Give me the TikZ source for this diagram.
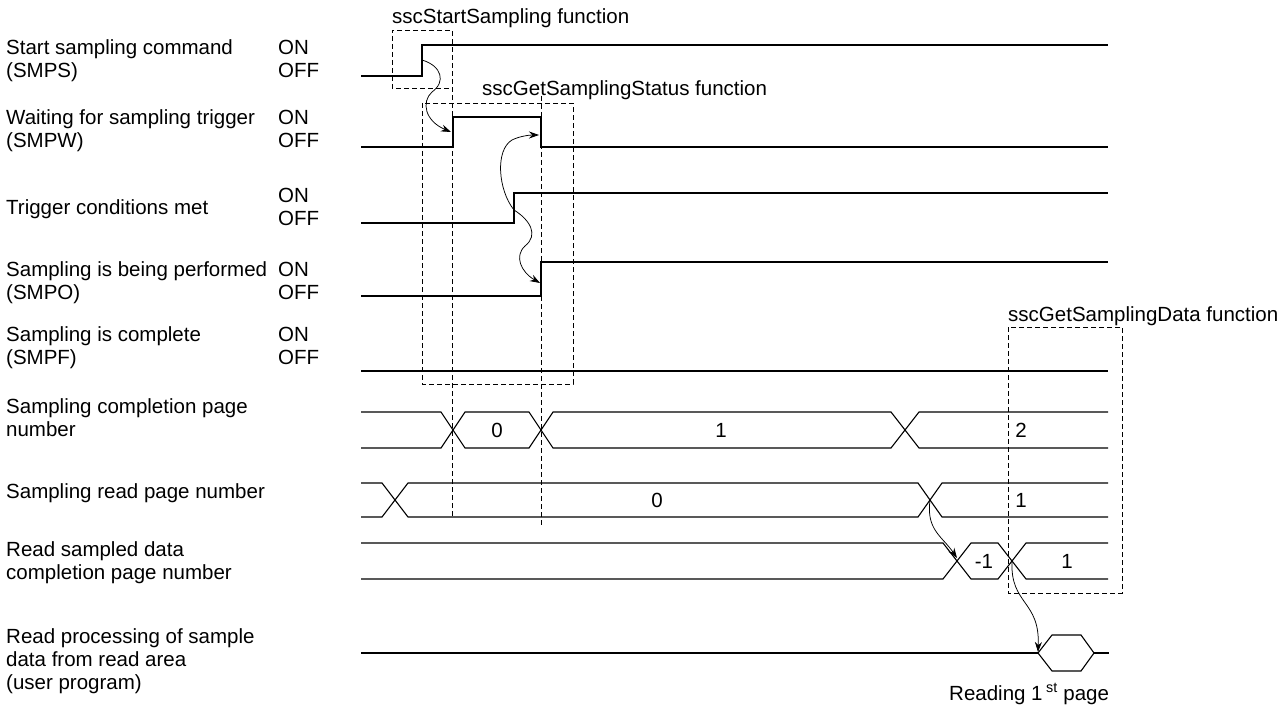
\documentclass[tikz,border=0pt]{standalone}
\usepackage{fontspec}
\setmainfont{Liberation Sans}
\usetikzlibrary{arrows.meta}

\tikzset{
  sig/.style={line width=1.1pt, black},
  fnbox/.style={dash pattern=on 5pt off 3pt, line width=0.8pt},
  jump/.style={-{Stealth[length=10pt,width=7pt]}, line width=0.75pt},
  txt/.style={anchor=west, align=left, inner sep=0pt},
}

\begin{document}
\begin{tikzpicture}[x=1pt, y=-1pt, font=\fontsize{20.5}{23}\selectfont]
    \useasboundingbox (0,0) rectangle (1288,706);

    % signal names
    \node[txt] (smps) at (6,60.5) {Start sampling command\\(SMPS)};
    \node[txt] (smpw) at (6,131) {Waiting for sampling trigger\\(SMPW)};
    \node[txt] (trig) at (6,209) {Trigger conditions met};
    \node[txt] (smpo) at (6,283) {Sampling is being performed\\(SMPO)};
    \node[txt] (smpf) at (6,347.5) {Sampling is complete\\(SMPF)};
    \node[txt] (cpage) at (6,417.5) {Sampling completion page\\number};
    \node[txt] (rpage) at (6,493) {Sampling read page number};
    \node[txt] (dpage) at (6,562.5) {Read sampled data\\completion page number};
    \node[txt] (user) at (6,661) {Read processing of sample\\data from read area\\(user program)};

    \node[txt] (smps-lv) at (278,58.5) {ON\\OFF};
    \node[txt] (smpw-lv) at (278,129) {ON\\OFF};
    \node[txt] (trig-lv) at (278,207) {ON\\OFF};
    \node[txt] (smpo-lv) at (278,281) {ON\\OFF};
    \node[txt] (smpf-lv) at (278,345.5) {ON\\OFF};

    % bit signals
    \draw[sig] (361,76) -- (422,76) -- (422,45) -- (1108,45);
    \draw[sig] (361,147) -- (453,147) -- (453,117) -- (541,117) -- (541,147) -- (1108,147);
    \draw[sig] (361,223) -- (514,223) -- (514,193) -- (1108,193);
    \draw[sig] (361,296) -- (541,296) -- (541,262) -- (1108,262);
    \draw[sig] (361,371) -- (1108,371);

    % page numbers
    \draw[sig] (361,412) -- (441,412) -- (465,448) -- (529,448) -- (553,412) -- (891,412) -- (919,448) -- (1108,448);
    \draw[sig] (361,448) -- (441,448) -- (465,412) -- (529,412) -- (553,448) -- (891,448) -- (919,412) -- (1108,412);
    \node (c0) at (497,430) {0};
    \node (c1) at (721,430) {1};
    \node (c2) at (1021,430) {2};

    \draw[sig] (361,483) -- (382,483) -- (408,517) -- (918,517) -- (942,483) -- (1108,483);
    \draw[sig] (361,517) -- (382,517) -- (408,483) -- (918,483) -- (942,517) -- (1108,517);
    \node (r0) at (657,500) {0};
    \node (r1) at (1021,500) {1};

    \draw[sig] (361,543) -- (943,543) -- (971,579) -- (998,579) -- (1026,543) -- (1108,543);
    \draw[sig] (361,579) -- (943,579) -- (971,543) -- (998,543) -- (1026,579) -- (1108,579);
    \node (d0) at (984,561) {-1};
    \node (d1) at (1067,561) {1};

    \draw[sig] (361,653) -- (1038,653);
    \draw[sig] (1038,653) -- (1052,635) -- (1081,635) -- (1094,653) -- (1081,671) -- (1052,671) -- cycle;
    \draw[sig] (1094,653) -- (1109,653);
    \node[anchor=base west, inner sep=0pt] (read1) at (949,700) {Reading 1\,\textsuperscript{st} page};

    % function boxes
    \draw[fnbox] (452,516) -- (452,30) -- (392,30) -- (392,88) -- (452,88);
    \node[anchor=base west, inner sep=0pt] (fstart) at (392,24) {sscStartSampling function};
    \draw[fnbox] (422,103) rectangle (573,384);
    \draw[fnbox] (541,96) -- (541,526);
    \node[anchor=base west, inner sep=0pt] (fstat) at (482,96) {sscGetSamplingStatus function};
    \draw[fnbox] (1008,327) rectangle (1122,593);
    \node[anchor=base west, inner sep=0pt] (fdata) at (1008,321) {sscGetSamplingData function};

    % causes
    \coordinate (smpsUp) at (422,60);
    \coordinate (smpwUp) at (451,132);
    \coordinate (smpwDn) at (539,135);
    \coordinate (trigUp) at (514,210);
    \coordinate (smpoUp) at (540,283);
    \coordinate (rX) at (930,500);
    \coordinate (dX1) at (957,558);
    \coordinate (dX2) at (1012,561);
    \coordinate (hexL) at (1038,652);

    \draw[jump] (smpsUp) .. controls (442,66) and (446,82) .. (432,92) .. controls (421,102) and (425,121) .. (smpwUp);
    \draw[jump] (trigUp) .. controls (498,190) and (495,150) .. (512,140) .. controls (520,136) and (530,135) .. (smpwDn);
    \draw[jump] (trigUp) .. controls (530,220) and (539,235) .. (525,246) .. controls (514,256) and (521,272) .. (smpoUp);
    \draw[jump] (rX) .. controls (926,530) and (942,536) .. (dX1);
    \draw[jump] (dX2) .. controls (1010,605) and (1040,600) .. (hexL);
\end{tikzpicture}
\end{document}
